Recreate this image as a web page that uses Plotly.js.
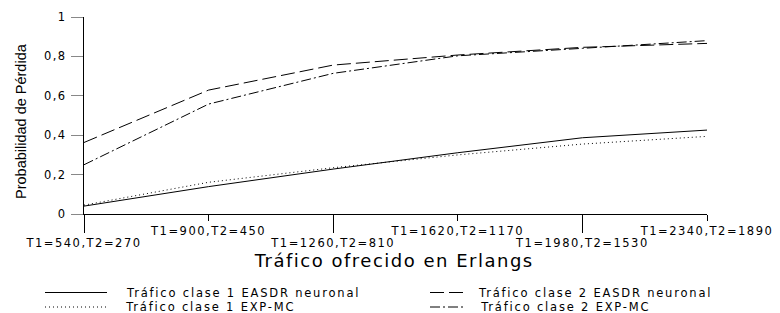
<!DOCTYPE html>
<html>
<head>
<meta charset="utf-8">
<script src="https://cdn.plot.ly/plotly-3.0.1.min.js"></script>
<style>
html,body{margin:0;padding:0;background:#fff;}
#chart{width:780px;height:313px;}
#chart svg text{letter-spacing:1.5px;}
#chart svg text.ytitle-ann{letter-spacing:0;}
#chart svg text.legend-ann{letter-spacing:1.8px;}
</style>
</head>
<body>
<div id="chart"></div>
<script>
// ---- data ----
const traffic = [540, 900, 1260, 1620, 1980, 2340];
const xLabels = ["T1=540,T2=270", "T1=900,T2=450", "T1=1260,T2=810",
                 "T1=1620,T2=1170", "T1=1980,T2=1530", "T1=2340,T2=1890"];
const clase1EASDR = [0.040, 0.139, 0.228, 0.311, 0.387, 0.426];
const clase1EXPMC = [0.045, 0.161, 0.235, 0.300, 0.355, 0.394];
const clase2EASDR = [0.363, 0.629, 0.756, 0.807, 0.846, 0.866];
const clase2EXPMC = [0.250, 0.558, 0.714, 0.803, 0.841, 0.880];
const seriesNames = ["Tráfico clase 1 EASDR neuronal", "Tráfico clase 1 EXP-MC",
                     "Tráfico clase 2 EASDR neuronal", "Tráfico clase 2 EXP-MC"];
const yTickVals = [0, 0.2, 0.4, 0.6, 0.8, 1];
const yTickText = ["0", "0,2", "0,4", "0,6", "0,8", "1"];

// ---- styles ----
const dashes = ["solid", "1px,3px", "14px,5px", "10px,3px,2px,3px"];
const seriesValues = [clase1EASDR, clase1EXPMC, clase2EASDR, clase2EXPMC];

const W = 780, H = 313;
const L = 84, R = 73, T = 17, B = 99;
const pw = W - L - R, ph = H - T - B;
const px = v => (v - L) / pw;
const py = v => (H - B - v) / ph;

const traces = seriesValues.map((vals, i) => ({
  x: traffic, y: vals, name: seriesNames[i], type: 'scatter', mode: 'lines',
  line: {color: '#000', width: 1, dash: dashes[i]}, showlegend: false, hoverinfo: 'skip'
}));

const majorIdx = [0, 2, 4], minorIdx = [1, 3, 5];
const font = {family: 'DejaVu Sans, Arial, sans-serif', size: 11.5, color: '#000'};

// legend built from layout items (text centre positions)
const shapes = [], annotations = [];
const legendPos = [
  {x0: 45, x1: 107, cx: 243, y: 292.5},
  {x0: 45, x1: 107, cx: 210, y: 307},
  {x0: 430, x1: 463, cx: 595, y: 292.5},
  {x0: 430, x1: 463, cx: 565, y: 307}
];
seriesNames.forEach((n, i) => {
  const p = legendPos[i];
  shapes.push({type: 'line', xref: 'paper', yref: 'paper', x0: px(p.x0), x1: px(p.x1),
    y0: py(p.y), y1: py(p.y), line: {color: '#000', width: 1, dash: dashes[i]}});
  annotations.push({xref: 'paper', yref: 'paper', x: px(p.cx), y: py(p.y), xanchor: 'center',
    yanchor: 'middle', text: n, showarrow: false, font: {family: font.family, size: 11.5, color: '#000'}});
});
annotations.push({xref: 'paper', yref: 'paper', x: px(393), y: py(260), xanchor: 'center', yanchor: 'middle',
  text: 'Tráfico ofrecido en Erlangs', showarrow: false,
  font: {family: font.family, size: 18, color: '#000'}});
annotations.push({xref: 'paper', yref: 'paper', x: px(21), y: py(121), xanchor: 'center', yanchor: 'middle',
  text: 'Probabilidad de Pérdida', textangle: -90, showarrow: false,
  font: {family: 'Liberation Sans, Arial, sans-serif', size: 14.5, color: '#000'}});

const layout = {
  width: W, height: H,
  margin: {l: L, r: R, t: T, b: B, pad: 0},
  paper_bgcolor: '#fff', plot_bgcolor: '#fff',
  showlegend: false,
  xaxis: {
    range: [540, 2340], showgrid: false, zeroline: false,
    showline: true, linecolor: '#000', linewidth: 1,
    tickmode: 'array', tickvals: majorIdx.map(i => traffic[i]), ticktext: majorIdx.map(i => xLabels[i]),
    ticks: 'outside', ticklen: 18, tickcolor: '#000', tickwidth: 1,
    tickfont: font, ticklabelstandoff: 0, fixedrange: true
  },
  xaxis2: {
    range: [540, 2340], overlaying: 'x', anchor: 'y', side: 'bottom',
    showgrid: false, zeroline: false, showline: false,
    tickmode: 'array', tickvals: minorIdx.map(i => traffic[i]), ticktext: minorIdx.map(i => xLabels[i]),
    ticks: 'outside', ticklen: 6, tickcolor: '#000', tickwidth: 1,
    tickfont: font, fixedrange: true
  },
  yaxis: {
    range: [0, 1], showgrid: false, zeroline: false,
    showline: true, linecolor: '#000', linewidth: 1,
    tickmode: 'array', tickvals: yTickVals, ticktext: yTickText,
    ticks: 'outside', ticklen: 12, tickcolor: '#888', tickwidth: 1,
    tickfont: font, ticklabelstandoff: 2, fixedrange: true
  },
  shapes: shapes,
  annotations: annotations
};

Plotly.newPlot('chart', traces.concat([{x: [traffic[0]], y: [null], xaxis: 'x2', yaxis: 'y',
  type: 'scatter', mode: 'lines', showlegend: false, hoverinfo: 'skip'}]), layout,
  {staticPlot: true, displayModeBar: false}).then(() => {
  document.querySelectorAll('#chart .annotation-text').forEach(t => {
    if (t.textContent === 'Probabilidad de Pérdida') t.classList.add('ytitle-ann');
    if (seriesNames.indexOf(t.textContent) >= 0) t.classList.add('legend-ann');
  });
});
</script>
</body>
</html>
